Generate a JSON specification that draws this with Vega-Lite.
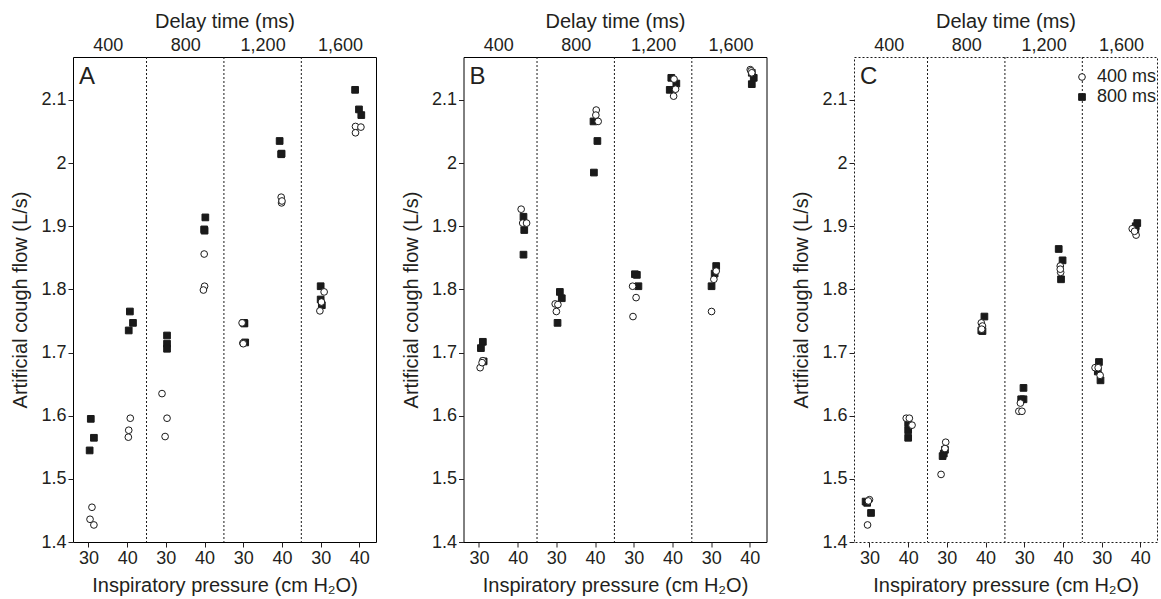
{
  "$schema": "https://vega.github.io/schema/vega-lite/v6.json",
  "padding": {"left": 10, "right": 2, "top": 10, "bottom": 0},
  "background": "white",
  "spacing": 23.5,
  "config": {
    "font": "Liberation Sans",
    "view": {"stroke": "black", "strokeWidth": 1},
    "axis": {"grid": false, "domain": false, "labelFont": "Liberation Sans", "titleFont": "Liberation Sans", "labelFontSize": 18, "titleFontSize": 20, "titleFontWeight": "normal", "labelColor": "#231f20", "titleColor": "#231f20", "tickColor": "#231f20", "tickSize": 5, "labelPadding": 2},
    "legend": {"labelFont": "Liberation Sans", "labelFontSize": 18, "labelColor": "#231f20"},
    "title": {"font": "Liberation Sans", "fontSize": 24, "fontWeight": "normal", "color": "#231f20"}
  },
  "datasets": {
    "pts": [
      {"panel":"A","delay":400,"pressure":30,"time":"800 ms","flow":1.595,"jitter":0.06},
      {"panel":"A","delay":400,"pressure":30,"time":"800 ms","flow":1.565,"jitter":0.14},
      {"panel":"A","delay":400,"pressure":30,"time":"800 ms","flow":1.545,"jitter":0.03},
      {"panel":"A","delay":400,"pressure":30,"time":"400 ms","flow":1.455,"jitter":0.09},
      {"panel":"A","delay":400,"pressure":30,"time":"400 ms","flow":1.436,"jitter":0.04},
      {"panel":"A","delay":400,"pressure":30,"time":"400 ms","flow":1.427,"jitter":0.14},
      {"panel":"A","delay":400,"pressure":40,"time":"800 ms","flow":1.765,"jitter":0.07},
      {"panel":"A","delay":400,"pressure":40,"time":"800 ms","flow":1.747,"jitter":0.15},
      {"panel":"A","delay":400,"pressure":40,"time":"800 ms","flow":1.735,"jitter":0.04},
      {"panel":"A","delay":400,"pressure":40,"time":"400 ms","flow":1.596,"jitter":0.08},
      {"panel":"A","delay":400,"pressure":40,"time":"400 ms","flow":1.577,"jitter":0.04},
      {"panel":"A","delay":400,"pressure":40,"time":"400 ms","flow":1.566,"jitter":0.03},
      {"panel":"A","delay":800,"pressure":30,"time":"800 ms","flow":1.727,"jitter":0.03},
      {"panel":"A","delay":800,"pressure":30,"time":"800 ms","flow":1.714,"jitter":0.03},
      {"panel":"A","delay":800,"pressure":30,"time":"800 ms","flow":1.706,"jitter":0.03},
      {"panel":"A","delay":800,"pressure":30,"time":"400 ms","flow":1.635,"jitter":-0.1},
      {"panel":"A","delay":800,"pressure":30,"time":"400 ms","flow":1.596,"jitter":0.03},
      {"panel":"A","delay":800,"pressure":30,"time":"400 ms","flow":1.567,"jitter":-0.02},
      {"panel":"A","delay":800,"pressure":40,"time":"800 ms","flow":1.914,"jitter":0.02},
      {"panel":"A","delay":800,"pressure":40,"time":"800 ms","flow":1.895,"jitter":-0.01},
      {"panel":"A","delay":800,"pressure":40,"time":"800 ms","flow":1.893,"jitter":0.0},
      {"panel":"A","delay":800,"pressure":40,"time":"400 ms","flow":1.856,"jitter":-0.01},
      {"panel":"A","delay":800,"pressure":40,"time":"400 ms","flow":1.805,"jitter":0.0},
      {"panel":"A","delay":800,"pressure":40,"time":"400 ms","flow":1.799,"jitter":-0.03},
      {"panel":"A","delay":1200,"pressure":30,"time":"800 ms","flow":1.747,"jitter":0.02},
      {"panel":"A","delay":1200,"pressure":30,"time":"800 ms","flow":1.746,"jitter":0.03},
      {"panel":"A","delay":1200,"pressure":30,"time":"800 ms","flow":1.716,"jitter":0.05},
      {"panel":"A","delay":1200,"pressure":30,"time":"400 ms","flow":1.747,"jitter":-0.03},
      {"panel":"A","delay":1200,"pressure":30,"time":"400 ms","flow":1.715,"jitter":-0.01},
      {"panel":"A","delay":1200,"pressure":30,"time":"400 ms","flow":1.714,"jitter":0.0},
      {"panel":"A","delay":1200,"pressure":40,"time":"800 ms","flow":2.035,"jitter":-0.06},
      {"panel":"A","delay":1200,"pressure":40,"time":"800 ms","flow":2.015,"jitter":-0.01},
      {"panel":"A","delay":1200,"pressure":40,"time":"800 ms","flow":2.014,"jitter":-0.02},
      {"panel":"A","delay":1200,"pressure":40,"time":"400 ms","flow":1.946,"jitter":-0.02},
      {"panel":"A","delay":1200,"pressure":40,"time":"400 ms","flow":1.937,"jitter":-0.01},
      {"panel":"A","delay":1200,"pressure":40,"time":"400 ms","flow":1.940,"jitter":0.0},
      {"panel":"A","delay":1600,"pressure":30,"time":"800 ms","flow":1.805,"jitter":0.0},
      {"panel":"A","delay":1600,"pressure":30,"time":"800 ms","flow":1.784,"jitter":0.0},
      {"panel":"A","delay":1600,"pressure":30,"time":"800 ms","flow":1.775,"jitter":0.03},
      {"panel":"A","delay":1600,"pressure":30,"time":"400 ms","flow":1.796,"jitter":0.09},
      {"panel":"A","delay":1600,"pressure":30,"time":"400 ms","flow":1.766,"jitter":-0.02},
      {"panel":"A","delay":1600,"pressure":30,"time":"400 ms","flow":1.780,"jitter":0.02},
      {"panel":"A","delay":1600,"pressure":40,"time":"800 ms","flow":2.116,"jitter":-0.11},
      {"panel":"A","delay":1600,"pressure":40,"time":"800 ms","flow":2.085,"jitter":-0.01},
      {"panel":"A","delay":1600,"pressure":40,"time":"800 ms","flow":2.076,"jitter":0.05},
      {"panel":"A","delay":1600,"pressure":40,"time":"400 ms","flow":2.058,"jitter":-0.1},
      {"panel":"A","delay":1600,"pressure":40,"time":"400 ms","flow":2.057,"jitter":0.04},
      {"panel":"A","delay":1600,"pressure":40,"time":"400 ms","flow":2.048,"jitter":-0.1},

      {"panel":"B","delay":400,"pressure":30,"time":"800 ms","flow":1.717,"jitter":0.1},
      {"panel":"B","delay":400,"pressure":30,"time":"800 ms","flow":1.707,"jitter":0.05},
      {"panel":"B","delay":400,"pressure":30,"time":"800 ms","flow":1.686,"jitter":0.12},
      {"panel":"B","delay":400,"pressure":30,"time":"400 ms","flow":1.676,"jitter":0.03},
      {"panel":"B","delay":400,"pressure":30,"time":"400 ms","flow":1.687,"jitter":0.1},
      {"panel":"B","delay":400,"pressure":30,"time":"400 ms","flow":1.684,"jitter":0.08},
      {"panel":"B","delay":400,"pressure":40,"time":"800 ms","flow":1.915,"jitter":0.15},
      {"panel":"B","delay":400,"pressure":40,"time":"800 ms","flow":1.894,"jitter":0.17},
      {"panel":"B","delay":400,"pressure":40,"time":"800 ms","flow":1.855,"jitter":0.15},
      {"panel":"B","delay":400,"pressure":40,"time":"400 ms","flow":1.927,"jitter":0.09},
      {"panel":"B","delay":400,"pressure":40,"time":"400 ms","flow":1.905,"jitter":0.13},
      {"panel":"B","delay":400,"pressure":40,"time":"400 ms","flow":1.905,"jitter":0.23},
      {"panel":"B","delay":800,"pressure":30,"time":"800 ms","flow":1.796,"jitter":0.09},
      {"panel":"B","delay":800,"pressure":30,"time":"800 ms","flow":1.786,"jitter":0.14},
      {"panel":"B","delay":800,"pressure":30,"time":"800 ms","flow":1.747,"jitter":0.03},
      {"panel":"B","delay":800,"pressure":30,"time":"400 ms","flow":1.777,"jitter":-0.03},
      {"panel":"B","delay":800,"pressure":30,"time":"400 ms","flow":1.776,"jitter":0.04},
      {"panel":"B","delay":800,"pressure":30,"time":"400 ms","flow":1.765,"jitter":0.0},
      {"panel":"B","delay":800,"pressure":40,"time":"800 ms","flow":2.066,"jitter":-0.04},
      {"panel":"B","delay":800,"pressure":40,"time":"800 ms","flow":2.035,"jitter":0.06},
      {"panel":"B","delay":800,"pressure":40,"time":"800 ms","flow":1.985,"jitter":-0.03},
      {"panel":"B","delay":800,"pressure":40,"time":"400 ms","flow":2.084,"jitter":0.03},
      {"panel":"B","delay":800,"pressure":40,"time":"400 ms","flow":2.076,"jitter":0.02},
      {"panel":"B","delay":800,"pressure":40,"time":"400 ms","flow":2.066,"jitter":0.08},
      {"panel":"B","delay":1200,"pressure":30,"time":"800 ms","flow":1.824,"jitter":0.03},
      {"panel":"B","delay":1200,"pressure":30,"time":"800 ms","flow":1.823,"jitter":0.08},
      {"panel":"B","delay":1200,"pressure":30,"time":"800 ms","flow":1.805,"jitter":0.12},
      {"panel":"B","delay":1200,"pressure":30,"time":"400 ms","flow":1.805,"jitter":-0.03},
      {"panel":"B","delay":1200,"pressure":30,"time":"400 ms","flow":1.787,"jitter":0.06},
      {"panel":"B","delay":1200,"pressure":30,"time":"400 ms","flow":1.757,"jitter":-0.02},
      {"panel":"B","delay":1200,"pressure":40,"time":"800 ms","flow":2.135,"jitter":-0.03},
      {"panel":"B","delay":1200,"pressure":40,"time":"800 ms","flow":2.126,"jitter":0.1},
      {"panel":"B","delay":1200,"pressure":40,"time":"800 ms","flow":2.116,"jitter":-0.07},
      {"panel":"B","delay":1200,"pressure":40,"time":"400 ms","flow":2.133,"jitter":0.04},
      {"panel":"B","delay":1200,"pressure":40,"time":"400 ms","flow":2.117,"jitter":0.08},
      {"panel":"B","delay":1200,"pressure":40,"time":"400 ms","flow":2.106,"jitter":0.03},
      {"panel":"B","delay":1600,"pressure":30,"time":"800 ms","flow":1.837,"jitter":0.13},
      {"panel":"B","delay":1600,"pressure":30,"time":"800 ms","flow":1.825,"jitter":0.09},
      {"panel":"B","delay":1600,"pressure":30,"time":"800 ms","flow":1.805,"jitter":0.01},
      {"panel":"B","delay":1600,"pressure":30,"time":"400 ms","flow":1.829,"jitter":0.13},
      {"panel":"B","delay":1600,"pressure":30,"time":"400 ms","flow":1.816,"jitter":0.07},
      {"panel":"B","delay":1600,"pressure":30,"time":"400 ms","flow":1.765,"jitter":0.01},
      {"panel":"B","delay":1600,"pressure":40,"time":"800 ms","flow":2.143,"jitter":0.05},
      {"panel":"B","delay":1600,"pressure":40,"time":"800 ms","flow":2.135,"jitter":0.1},
      {"panel":"B","delay":1600,"pressure":40,"time":"800 ms","flow":2.125,"jitter":0.05},
      {"panel":"B","delay":1600,"pressure":40,"time":"400 ms","flow":2.148,"jitter":0.01},
      {"panel":"B","delay":1600,"pressure":40,"time":"400 ms","flow":2.146,"jitter":0.03},
      {"panel":"B","delay":1600,"pressure":40,"time":"400 ms","flow":2.143,"jitter":0.05},

      {"panel":"C","delay":400,"pressure":30,"time":"800 ms","flow":1.464,"jitter":-0.1},
      {"panel":"C","delay":400,"pressure":30,"time":"800 ms","flow":1.462,"jitter":-0.06},
      {"panel":"C","delay":400,"pressure":30,"time":"800 ms","flow":1.446,"jitter":0.04},
      {"panel":"C","delay":400,"pressure":30,"time":"400 ms","flow":1.467,"jitter":0.0},
      {"panel":"C","delay":400,"pressure":30,"time":"400 ms","flow":1.465,"jitter":-0.03},
      {"panel":"C","delay":400,"pressure":30,"time":"400 ms","flow":1.427,"jitter":-0.05},
      {"panel":"C","delay":400,"pressure":40,"time":"800 ms","flow":1.588,"jitter":0.0},
      {"panel":"C","delay":400,"pressure":40,"time":"800 ms","flow":1.577,"jitter":0.0},
      {"panel":"C","delay":400,"pressure":40,"time":"800 ms","flow":1.565,"jitter":0.0},
      {"panel":"C","delay":400,"pressure":40,"time":"400 ms","flow":1.596,"jitter":-0.05},
      {"panel":"C","delay":400,"pressure":40,"time":"400 ms","flow":1.596,"jitter":0.03},
      {"panel":"C","delay":400,"pressure":40,"time":"400 ms","flow":1.585,"jitter":0.1},
      {"panel":"C","delay":800,"pressure":30,"time":"800 ms","flow":1.546,"jitter":-0.05},
      {"panel":"C","delay":800,"pressure":30,"time":"800 ms","flow":1.536,"jitter":-0.11},
      {"panel":"C","delay":800,"pressure":30,"time":"800 ms","flow":1.540,"jitter":-0.08},
      {"panel":"C","delay":800,"pressure":30,"time":"400 ms","flow":1.558,"jitter":-0.03},
      {"panel":"C","delay":800,"pressure":30,"time":"400 ms","flow":1.548,"jitter":-0.05},
      {"panel":"C","delay":800,"pressure":30,"time":"400 ms","flow":1.507,"jitter":-0.15},
      {"panel":"C","delay":800,"pressure":40,"time":"800 ms","flow":1.757,"jitter":-0.03},
      {"panel":"C","delay":800,"pressure":40,"time":"800 ms","flow":1.735,"jitter":-0.11},
      {"panel":"C","delay":800,"pressure":40,"time":"800 ms","flow":1.734,"jitter":-0.08},
      {"panel":"C","delay":800,"pressure":40,"time":"400 ms","flow":1.747,"jitter":-0.11},
      {"panel":"C","delay":800,"pressure":40,"time":"400 ms","flow":1.742,"jitter":-0.08},
      {"panel":"C","delay":800,"pressure":40,"time":"400 ms","flow":1.737,"jitter":-0.1},
      {"panel":"C","delay":1200,"pressure":30,"time":"800 ms","flow":1.644,"jitter":-0.02},
      {"panel":"C","delay":1200,"pressure":30,"time":"800 ms","flow":1.626,"jitter":-0.02},
      {"panel":"C","delay":1200,"pressure":30,"time":"800 ms","flow":1.626,"jitter":-0.08},
      {"panel":"C","delay":1200,"pressure":30,"time":"400 ms","flow":1.607,"jitter":-0.14},
      {"panel":"C","delay":1200,"pressure":30,"time":"400 ms","flow":1.607,"jitter":-0.06},
      {"panel":"C","delay":1200,"pressure":30,"time":"400 ms","flow":1.620,"jitter":-0.1},
      {"panel":"C","delay":1200,"pressure":40,"time":"800 ms","flow":1.864,"jitter":-0.11},
      {"panel":"C","delay":1200,"pressure":40,"time":"800 ms","flow":1.846,"jitter":-0.01},
      {"panel":"C","delay":1200,"pressure":40,"time":"800 ms","flow":1.816,"jitter":-0.05},
      {"panel":"C","delay":1200,"pressure":40,"time":"400 ms","flow":1.837,"jitter":-0.07},
      {"panel":"C","delay":1200,"pressure":40,"time":"400 ms","flow":1.827,"jitter":-0.06},
      {"panel":"C","delay":1200,"pressure":40,"time":"400 ms","flow":1.832,"jitter":-0.07},
      {"panel":"C","delay":1600,"pressure":30,"time":"800 ms","flow":1.685,"jitter":-0.07},
      {"panel":"C","delay":1600,"pressure":30,"time":"800 ms","flow":1.670,"jitter":-0.1},
      {"panel":"C","delay":1600,"pressure":30,"time":"800 ms","flow":1.656,"jitter":-0.03},
      {"panel":"C","delay":1600,"pressure":30,"time":"400 ms","flow":1.676,"jitter":-0.17},
      {"panel":"C","delay":1600,"pressure":30,"time":"400 ms","flow":1.676,"jitter":-0.09},
      {"panel":"C","delay":1600,"pressure":30,"time":"400 ms","flow":1.664,"jitter":-0.04},
      {"panel":"C","delay":1600,"pressure":40,"time":"800 ms","flow":1.905,"jitter":-0.08},
      {"panel":"C","delay":1600,"pressure":40,"time":"800 ms","flow":1.900,"jitter":-0.12},
      {"panel":"C","delay":1600,"pressure":40,"time":"800 ms","flow":1.895,"jitter":-0.13},
      {"panel":"C","delay":1600,"pressure":40,"time":"400 ms","flow":1.896,"jitter":-0.21},
      {"panel":"C","delay":1600,"pressure":40,"time":"400 ms","flow":1.886,"jitter":-0.11},
      {"panel":"C","delay":1600,"pressure":40,"time":"400 ms","flow":1.892,"jitter":-0.15}
    ],
    "seps": [{"delay": 800}, {"delay": 1200}, {"delay": 1600}]
  },
  "resolve": {"scale": {"shape": "independent", "fill": "independent", "stroke": "independent"}, "legend": {"shape": "independent", "fill": "independent", "stroke": "independent"}},
  "hconcat": [
    {
      "width": 303, "height": 485,
      "title": {"text": "A", "anchor": "start", "frame": "group", "offset": -97, "dx": 6, "baseline": "alphabetic"},
      "resolve": {"axis": {"x": "independent"}},
      "layer": [
        {
          "data": {"name": "pts"},
          "transform": [{"filter": "datum.panel === 'A'"}, {"calculate": "indexof([400,800,1200,1600], datum.delay)*2 + (datum.pressure-30)/10 + 1 + datum.jitter", "as": "pos"}],
          "mark": {"type": "point", "filled": false, "size": 45, "strokeWidth": 1, "opacity": 1},
          "encoding": {
            "x": {"field": "pos", "type": "quantitative", "scale": {"domain": [0.6, 8.43], "nice": false, "zero": false}, "axis": {"orient": "bottom", "values": [1,2,3,4,5,6,7,8], "labelExpr": "datum.value % 2 == 1 ? '30' : '40'", "title": "Inspiratory pressure (cm H₂O)", "titlePadding": 8}},
            "y": {"field": "flow", "type": "quantitative", "scale": {"domain": [1.4, 2.168], "nice": false, "zero": false}, "axis": {"values": [1.4,1.5,1.6,1.7,1.8,1.9,2.0,2.1], "format": ".1~f", "title": "Artificial cough flow (L/s)", "titlePadding": 10}},
            "shape": {"field": "time", "type": "nominal", "scale": {"domain": ["400 ms","800 ms"], "range": ["circle","square"]}, "legend": null},
            "fill": {"field": "time", "type": "nominal", "scale": {"domain": ["400 ms","800 ms"], "range": ["white","#1a1a1a"]}, "legend": null},
            "stroke": {"field": "time", "type": "nominal", "scale": {"domain": ["400 ms","800 ms"], "range": ["#1a1a1a","#1a1a1a"]}, "legend": null}
          }
        },
        {
          "data": {"name": "seps"},
          "transform": [{"calculate": "indexof([400,800,1200,1600], datum.delay)*2 + 0.5", "as": "pos"}],
          "mark": {"type": "rule", "strokeDash": [2, 2], "color": "#1a1a1a", "strokeWidth": 1},
          "encoding": {
            "x": {"field": "pos", "type": "quantitative", "axis": {"orient": "top", "values": [1.5,3.5,5.5,7.5], "labelExpr": "datum.value == 1.5 ? '400' : datum.value == 3.5 ? '800' : datum.value == 5.5 ? '1,200' : '1,600'", "ticks": false, "tickSize": 0, "labelPadding": 3, "title": "Delay time (ms)", "titlePadding": 5}}
          }
        }
      ]
    },
    {
      "width": 303, "height": 485,
      "title": {"text": "B", "anchor": "start", "frame": "group", "offset": -97, "dx": 6, "baseline": "alphabetic"},
      "resolve": {"axis": {"x": "independent"}},
      "layer": [
        {
          "data": {"name": "pts"},
          "transform": [{"filter": "datum.panel === 'B'"}, {"calculate": "indexof([400,800,1200,1600], datum.delay)*2 + (datum.pressure-30)/10 + 1 + datum.jitter", "as": "pos"}],
          "mark": {"type": "point", "filled": false, "size": 45, "strokeWidth": 1, "opacity": 1},
          "encoding": {
            "x": {"field": "pos", "type": "quantitative", "scale": {"domain": [0.6, 8.43], "nice": false, "zero": false}, "axis": {"orient": "bottom", "values": [1,2,3,4,5,6,7,8], "labelExpr": "datum.value % 2 == 1 ? '30' : '40'", "title": "Inspiratory pressure (cm H₂O)", "titlePadding": 8}},
            "y": {"field": "flow", "type": "quantitative", "scale": {"domain": [1.4, 2.168], "nice": false, "zero": false}, "axis": {"values": [1.4,1.5,1.6,1.7,1.8,1.9,2.0,2.1], "format": ".1~f", "title": "Artificial cough flow (L/s)", "titlePadding": 10}},
            "shape": {"field": "time", "type": "nominal", "scale": {"domain": ["400 ms","800 ms"], "range": ["circle","square"]}, "legend": null},
            "fill": {"field": "time", "type": "nominal", "scale": {"domain": ["400 ms","800 ms"], "range": ["white","#1a1a1a"]}, "legend": null},
            "stroke": {"field": "time", "type": "nominal", "scale": {"domain": ["400 ms","800 ms"], "range": ["#1a1a1a","#1a1a1a"]}, "legend": null}
          }
        },
        {
          "data": {"name": "seps"},
          "transform": [{"calculate": "indexof([400,800,1200,1600], datum.delay)*2 + 0.5", "as": "pos"}],
          "mark": {"type": "rule", "strokeDash": [2, 2], "color": "#1a1a1a", "strokeWidth": 1},
          "encoding": {
            "x": {"field": "pos", "type": "quantitative", "axis": {"orient": "top", "values": [1.5,3.5,5.5,7.5], "labelExpr": "datum.value == 1.5 ? '400' : datum.value == 3.5 ? '800' : datum.value == 5.5 ? '1,200' : '1,600'", "ticks": false, "tickSize": 0, "labelPadding": 3, "title": "Delay time (ms)", "titlePadding": 5}}
          }
        }
      ]
    },
    {
      "width": 303, "height": 485,
      "view": {"stroke": "#1a1a1a", "strokeDash": [2, 2], "strokeWidth": 1},
      "title": {"text": "C", "anchor": "start", "frame": "group", "offset": -97, "dx": 6, "baseline": "alphabetic"},
      "resolve": {"axis": {"x": "independent"}},
      "layer": [
        {
          "data": {"name": "pts"},
          "transform": [{"filter": "datum.panel === 'C'"}, {"calculate": "indexof([400,800,1200,1600], datum.delay)*2 + (datum.pressure-30)/10 + 1 + datum.jitter", "as": "pos"}],
          "mark": {"type": "point", "filled": false, "size": 45, "strokeWidth": 1, "opacity": 1},
          "encoding": {
            "x": {"field": "pos", "type": "quantitative", "scale": {"domain": [0.6, 8.43], "nice": false, "zero": false}, "axis": {"orient": "bottom", "values": [1,2,3,4,5,6,7,8], "labelExpr": "datum.value % 2 == 1 ? '30' : '40'", "title": "Inspiratory pressure (cm H₂O)", "titlePadding": 8}},
            "y": {"field": "flow", "type": "quantitative", "scale": {"domain": [1.4, 2.168], "nice": false, "zero": false}, "axis": {"values": [1.4,1.5,1.6,1.7,1.8,1.9,2.0,2.1], "format": ".1~f", "title": "Artificial cough flow (L/s)", "titlePadding": 10}},
            "shape": {"field": "time", "type": "nominal", "scale": {"domain": ["400 ms","800 ms"], "range": ["circle","square"]}, "legend": {"title": null, "orient": "none", "legendX": 219, "legendY": 11, "symbolSize": 45, "symbolStrokeWidth": 1, "labelFontSize": 18, "rowPadding": 2, "labelOffset": 6}},
            "fill": {"field": "time", "type": "nominal", "scale": {"domain": ["400 ms","800 ms"], "range": ["white","#1a1a1a"]}},
            "stroke": {"field": "time", "type": "nominal", "scale": {"domain": ["400 ms","800 ms"], "range": ["#1a1a1a","#1a1a1a"]}}
          }
        },
        {
          "data": {"name": "seps"},
          "transform": [{"calculate": "indexof([400,800,1200,1600], datum.delay)*2 + 0.5", "as": "pos"}],
          "mark": {"type": "rule", "strokeDash": [2, 2], "color": "#1a1a1a", "strokeWidth": 1},
          "encoding": {
            "x": {"field": "pos", "type": "quantitative", "axis": {"orient": "top", "values": [1.5,3.5,5.5,7.5], "labelExpr": "datum.value == 1.5 ? '400' : datum.value == 3.5 ? '800' : datum.value == 5.5 ? '1,200' : '1,600'", "ticks": false, "tickSize": 0, "labelPadding": 3, "title": "Delay time (ms)", "titlePadding": 5}}
          }
        }
      ]
    }
  ]
}
